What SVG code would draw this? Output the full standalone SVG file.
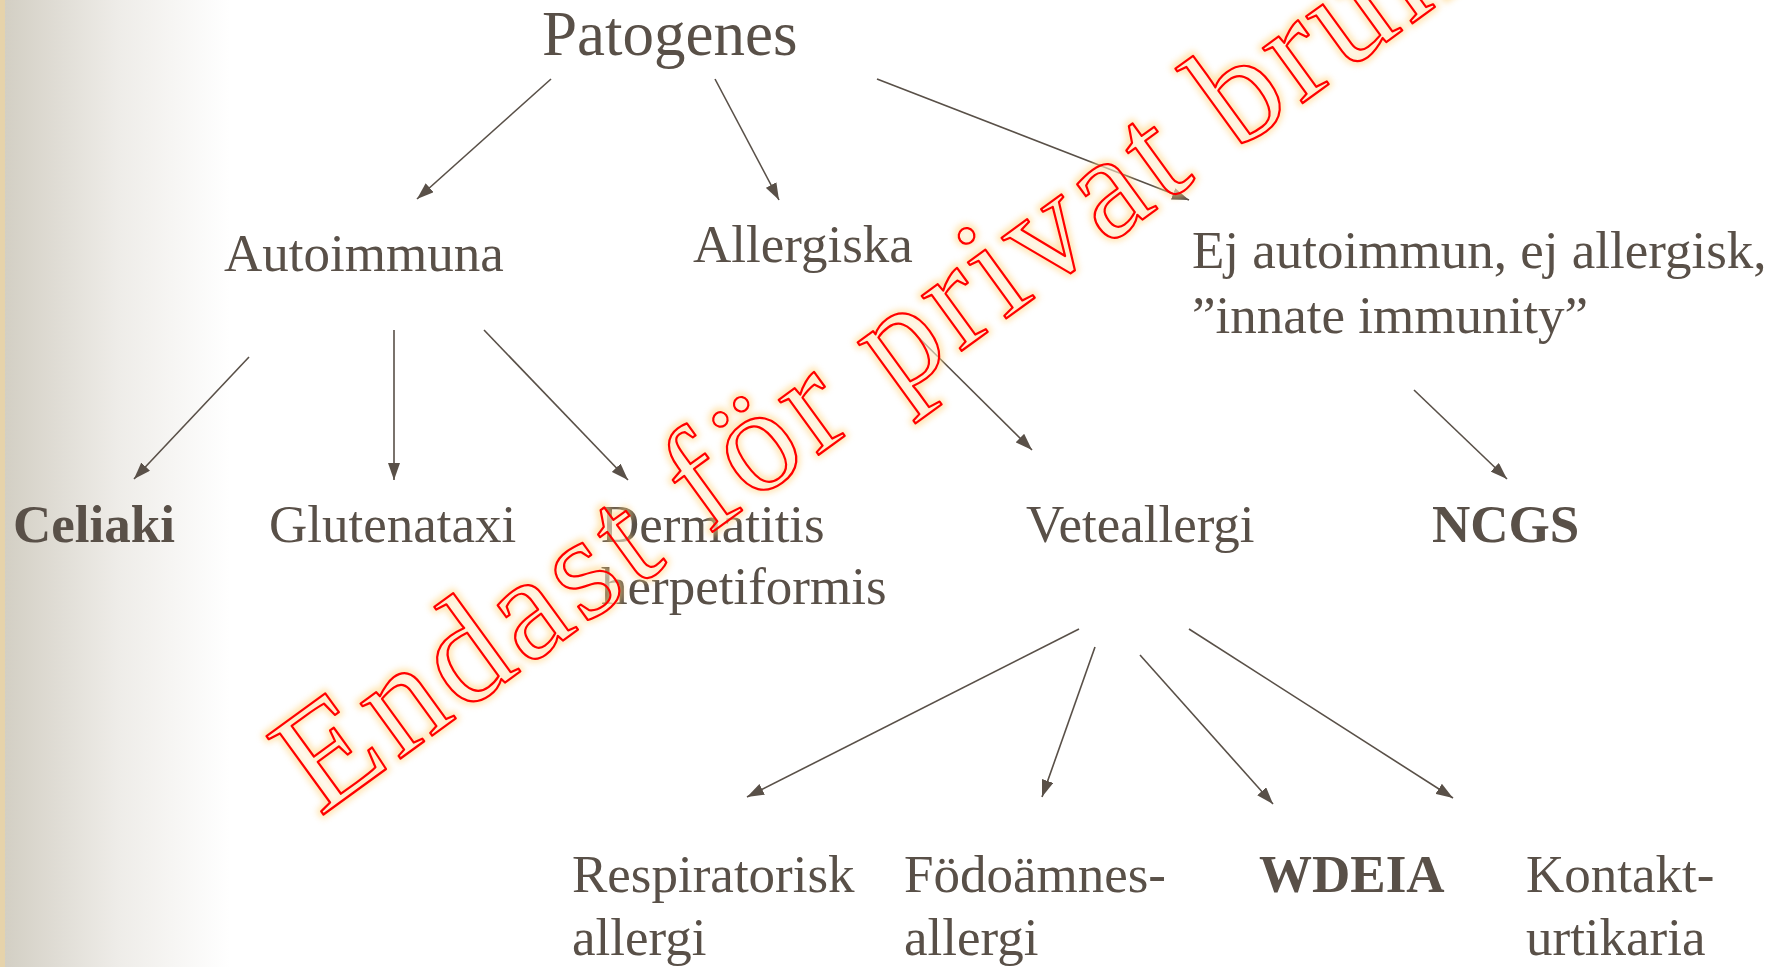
<svg xmlns="http://www.w3.org/2000/svg" width="1785" height="967" viewBox="0 0 1785 967">
<style>
.t{font-family:"Liberation Serif","Times New Roman",serif;font-size:53px;fill:#595048}
.b{font-weight:bold}
.c line{stroke:#595048;stroke-width:1.6;fill:none}
.wm{font-family:"Liberation Serif","Times New Roman",serif;font-size:148px}
</style>
<defs>
<linearGradient id="bg" x1="0" y1="0" x2="1" y2="0">
<stop offset="0" stop-color="#d3cfc4"/>
<stop offset="0.5" stop-color="#eeece8"/>
<stop offset="1" stop-color="#ffffff"/>
</linearGradient>
<marker id="ah" viewBox="0 0 17 12" refX="17" refY="6" markerWidth="17" markerHeight="12" markerUnits="userSpaceOnUse" orient="auto">
<path d="M0,0 L17,6 L0,12 z" fill="#595048"/>
</marker>
<filter id="glow" x="-10%" y="-10%" width="120%" height="120%">
<feGaussianBlur stdDeviation="3"/>
</filter>
</defs>
<rect width="1785" height="967" fill="#ffffff"/>
<rect x="5" y="0" width="225" height="967" fill="url(#bg)"/>
<rect x="0" y="0" width="5" height="967" fill="#e6d3ab"/>

<g class="c" id="connectors">
<line x1="551" y1="79" x2="417" y2="199" marker-end="url(#ah)"/>
<line x1="715" y1="79" x2="779" y2="200" marker-end="url(#ah)"/>
<line x1="877" y1="79" x2="1189" y2="200" marker-end="url(#ah)"/>
<line x1="249" y1="357" x2="134" y2="479" marker-end="url(#ah)"/>
<line x1="394" y1="330" x2="394" y2="480" marker-end="url(#ah)"/>
<line x1="484" y1="330" x2="628" y2="480" marker-end="url(#ah)"/>
<line x1="910" y1="329" x2="1032" y2="450" marker-end="url(#ah)"/>
<line x1="1414" y1="390" x2="1507" y2="479" marker-end="url(#ah)"/>
<line x1="1079" y1="629" x2="747" y2="797" marker-end="url(#ah)"/>
<line x1="1095" y1="647" x2="1042" y2="797" marker-end="url(#ah)"/>
<line x1="1140" y1="655" x2="1273" y2="804" marker-end="url(#ah)"/>
<line x1="1189" y1="629" x2="1453" y2="798" marker-end="url(#ah)"/>
</g>

<g id="patogenes"><text class="t" x="542" y="55" style="font-size:63px">Patogenes</text></g>
<g id="autoimmuna"><text class="t" x="224" y="271">Autoimmuna</text></g>
<g id="allergiska"><text class="t" x="693" y="262">Allergiska</text></g>
<g id="ej"><text class="t" x="1192" y="268">Ej autoimmun, ej allergisk,</text><text class="t" x="1192" y="333">”innate immunity”</text></g>
<g id="celiaki"><text class="t b" x="13" y="542">Celiaki</text></g>
<g id="glutenataxi"><text class="t" x="269" y="542">Glutenataxi</text></g>
<g id="dermatitis"><text class="t" x="601" y="542">Dermatitis</text><text class="t" x="601" y="604">herpetiformis</text></g>
<g id="veteallergi"><text class="t" x="1026" y="542">Veteallergi</text></g>
<g id="ncgs"><text class="t b" x="1432" y="542">NCGS</text></g>
<g id="respiratorisk"><text class="t" x="572" y="892">Respiratorisk</text><text class="t" x="572" y="955">allergi</text></g>
<g id="fodoamnes"><text class="t" x="904" y="892">Födoämnes-</text><text class="t" x="904" y="955">allergi</text></g>
<g id="wdeia"><text class="t b" x="1259" y="892">WDEIA</text></g>
<g id="kontakt"><text class="t" x="1526" y="892">Kontakt-</text><text class="t" x="1526" y="955">urtikaria</text></g>

<g id="watermark" transform="rotate(-36 320 817)">
<text class="wm" x="320" y="817" textLength="1420" lengthAdjust="spacing" fill="none" stroke="#ffd27a" stroke-width="8" stroke-linejoin="round" filter="url(#glow)" opacity="0.6">Endast för privat bruk</text>
<text class="wm" x="320" y="817" textLength="1420" lengthAdjust="spacing" fill="#ffffff" fill-opacity="0.35" stroke="#ff0000" stroke-width="2.2" stroke-linejoin="round">Endast för privat bruk</text>
</g>
</svg>
